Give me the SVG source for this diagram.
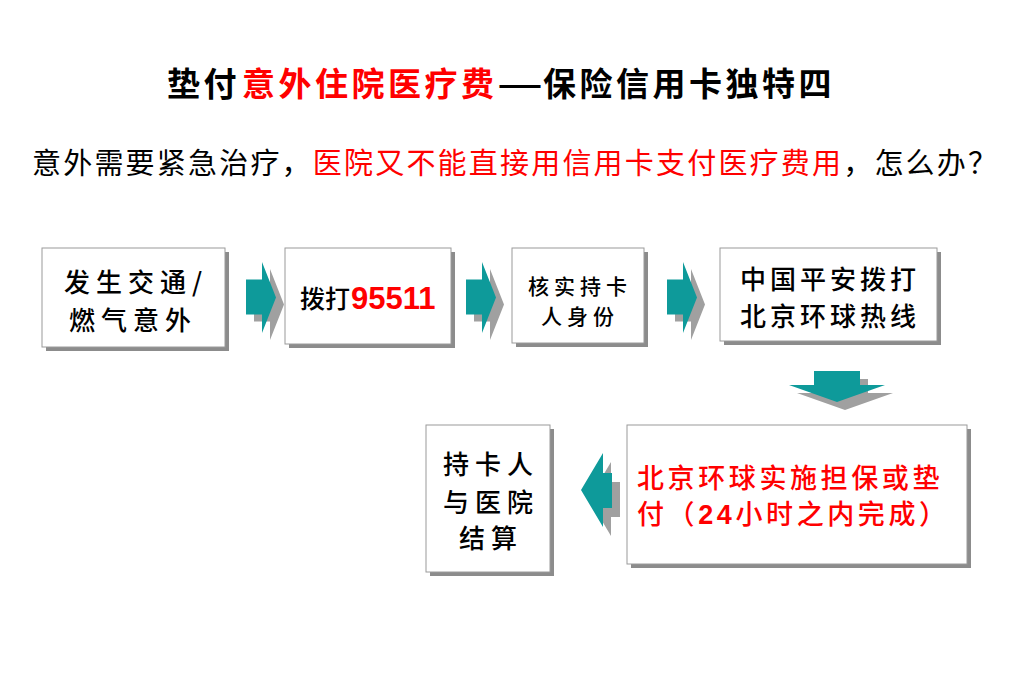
<svg xmlns="http://www.w3.org/2000/svg" width="1023" height="696" viewBox="0 0 1023 696">
<defs>
<style>
.bg{fill:#ffffff}
.box{fill:#ffffff;stroke:#9a9a9a;stroke-width:1}
.shadow{fill:#8c8c8c}
.teal{fill:#0e9a9a}
.ash{fill:#a0a0a0}
.t{font-family:"Noto Sans CJK SC",sans-serif;fill:#000}
.title{font-size:33px;font-weight:700;letter-spacing:3.5px}
.sub{font-size:29px;font-weight:400;letter-spacing:2.2px}
.bx{font-weight:500}
.red{fill:#ff0000}
.num{font-family:"Liberation Sans",Arial,sans-serif;font-weight:700}
</style>
<path id="ra" d="M0,-18 H16 V-35.5 L30,0 L16,35.5 V17 H0 Z"/>
</defs>
<rect class="bg" x="0" y="0" width="1023" height="696"/>

<g id="title">
<text class="t title" y="96"><tspan x="167">垫付</tspan><tspan x="242" class="red">意外住院医疗费</tspan><tspan x="543">保险信用卡独特四</tspan></text>
<text class="t" x="497" y="96" font-family="Liberation Sans,sans-serif" font-weight="700" font-size="33" textLength="46" lengthAdjust="spacingAndGlyphs">—</text>
</g>

<g id="subtitle">
<text class="t sub" x="32" y="174">意外需要紧急治疗，<tspan class="red">医院又不能直接用信用卡支付医疗费用</tspan>，怎么办？</text>
</g>

<g id="connectors">
<use href="#ra" class="ash" transform="translate(254,304.5)"/>
<use href="#ra" class="teal" transform="translate(246,297.5)"/>
<use href="#ra" class="ash" transform="translate(474,304.5)"/>
<use href="#ra" class="teal" transform="translate(466,297.5)"/>
<use href="#ra" class="ash" transform="translate(675,304.5)"/>
<use href="#ra" class="teal" transform="translate(667,297.5)"/>
<polygon class="ash" points="822,379 868,379 868,393 893,393 845,410 797,393 822,393"/>
<polygon class="teal" points="814,371 860,371 860,385 885,385 837,402 789,385 814,385"/>
<polygon class="ash" points="620,482 611,482 611,462 589,499 611,536 611,517 620,517"/>
<polygon class="teal" points="612,473 603,473 603,453 581,490 603,527 603,508 612,508"/>
</g>

<g id="n1">
<rect class="shadow" x="46" y="252" width="183" height="99"/>
<rect class="box" x="42" y="248" width="183" height="99"/>
<text class="t bx" font-size="26" letter-spacing="6" text-anchor="middle"><tspan x="136" y="292">发生交通/</tspan><tspan x="133" y="330">燃气意外</tspan></text>
</g>

<g id="n2">
<rect class="shadow" x="289" y="252" width="166" height="96"/>
<rect class="box" x="285" y="248" width="166" height="96"/>
<text class="t bx" font-size="25" x="300" y="308">拨打<tspan class="num red" font-size="31" x="351" y="309">95511</tspan></text>
</g>

<g id="n3">
<rect class="shadow" x="516" y="252" width="132" height="95"/>
<rect class="box" x="512" y="248" width="132" height="95"/>
<text class="t bx" font-size="21" letter-spacing="5" text-anchor="middle"><tspan x="580" y="294">核实持卡</tspan><tspan x="580" y="324">人身份</tspan></text>
</g>

<g id="n4">
<rect class="shadow" x="724" y="252" width="217" height="93"/>
<rect class="box" x="720" y="248" width="217" height="93"/>
<text class="t bx" font-size="26" letter-spacing="4" text-anchor="middle"><tspan x="830" y="289">中国平安拨打</tspan><tspan x="830" y="326">北京环球热线</tspan></text>
</g>

<g id="n5">
<rect class="shadow" x="430" y="429" width="124" height="147"/>
<rect class="box" x="426" y="425" width="124" height="147"/>
<text class="t bx" font-size="26" letter-spacing="6" text-anchor="middle"><tspan x="491" y="474">持卡人</tspan><tspan x="491" y="512">与医院</tspan><tspan x="491" y="548">结算</tspan></text>
</g>

<g id="n6">
<rect class="shadow" x="631" y="429" width="340" height="139"/>
<rect class="box" x="627" y="425" width="340" height="139"/>
<text class="t bx red" font-size="27" letter-spacing="3.6"><tspan x="637" y="488">北京环球实施担保或垫</tspan><tspan x="637" y="524">付（<tspan class="num" font-size="27">24</tspan>小时之内完成）</tspan></text>
</g>
</svg>
